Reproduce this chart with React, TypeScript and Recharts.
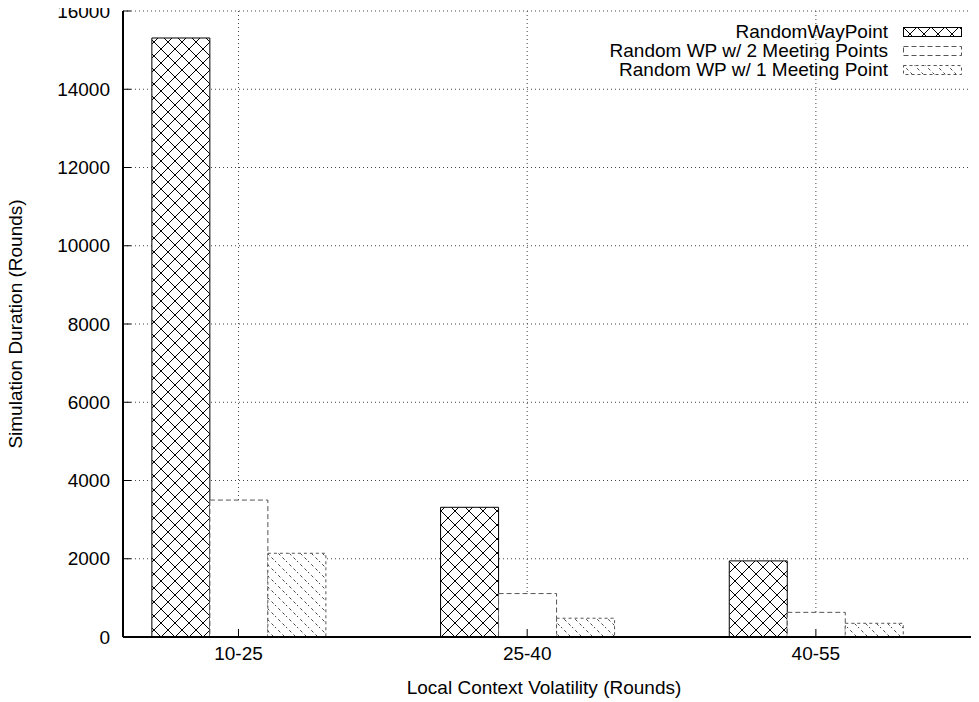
import React from "react";
import { BarChart, Bar, XAxis, YAxis, CartesianGrid, Label } from "recharts";

// categories along the x axis (bars sit at positions 0, 1, 2)
const categories = ["10-25", "25-40", "40-55"];
const seriesNames = [
  "RandomWayPoint",
  "Random WP w/ 2 Meeting Points",
  "Random WP w/ 1 Meeting Point",
];
const randomWayPoint = [15310, 3315, 1945];
const twoMeetingPoints = [3500, 1110, 630];
const oneMeetingPoint = [2140, 480, 350];
const yTicks = [0, 2000, 4000, 6000, 8000, 10000, 12000, 14000, 16000];
const xPositions = [0, 1, 2];

const data = categories.map((label, i) => ({
  pos: xPositions[i],
  label,
  rwp: randomWayPoint[i],
  mp2: twoMeetingPoints[i],
  mp1: oneMeetingPoint[i],
}));

const FONT = "'Liberation Sans', Arial, Helvetica, sans-serif";
const FS = 19;
const X_DOMAIN: [number, number] = [-0.4, 2.565];

function YTick(props: any) {
  const { x, y, payload } = props;
  return (
    <g>
      <line x1={x} x2={x + 8} y1={y} y2={y} stroke="#000" strokeWidth={1} />
      <text x={x - 13} y={y} dy="0.35em" textAnchor="end" fontSize={FS} fontFamily={FONT} fill="#000">
        {payload.value}
      </text>
    </g>
  );
}

function XTick(props: any) {
  const { x, y, payload } = props;
  return (
    <g>
      <line x1={x} x2={x} y1={y} y2={y - 8} stroke="#000" strokeWidth={1} />
      <text x={x} y={y + 23} textAnchor="middle" fontSize={FS} fontFamily={FONT} fill="#000">
        {categories[payload.value]}
      </text>
    </g>
  );
}

function TopTick(props: any) {
  const { x, y } = props;
  return <line x1={x} x2={x} y1={y} y2={y + 8} stroke="#000" strokeWidth={1} />;
}

const swatches = [
  { fill: "url(#crosshatch)", stroke: "#000", dash: undefined },
  { fill: "#fff", stroke: "#555", dash: "5 3" },
  { fill: "url(#diagdash)", stroke: "#555", dash: "3 3" },
];

export default function App() {
  return (
    <div style={{ position: "relative", width: 979, height: 702, margin: "-8px 0 0 -8px", fontFamily: FONT }}>
      <svg width={0} height={0} style={{ position: "absolute" }}>
        <defs>
          <pattern id="crosshatch" patternUnits="userSpaceOnUse" width={14} height={14}>
            <rect width={14} height={14} fill="#fff" />
            <path d="M-1,-1 L15,15 M15,-1 L-1,15" stroke="#000" strokeWidth={1} />
          </pattern>
          <pattern id="diagdash" patternUnits="userSpaceOnUse" width={11} height={11}>
            <rect width={11} height={11} fill="#fff" />
            <path d="M-1,-1 L12,12" stroke="#444" strokeWidth={1} strokeDasharray="3 3" />
          </pattern>
        </defs>
      </svg>
      <BarChart
        width={979}
        height={702}
        data={data}
        margin={{ top: 11, right: 0, left: 0, bottom: 0 }}
        barCategoryGap="20%"
        barGap={0}
      >
        <CartesianGrid stroke="#444" strokeDasharray="1 3" strokeWidth={1} />
        <XAxis
          dataKey="pos"
          type="number"
          domain={X_DOMAIN}
          ticks={xPositions}
          interval={0}
          height={65}
          tickSize={0}
          tickMargin={0}
          tickLine={false}
          axisLine={{ stroke: "#000", strokeWidth: 2 }}
          tick={XTick}
        >
          <Label
            content={(p: any) => {
              const vb = p.viewBox;
              return (
                <text x={vb.x + vb.width / 2 - 7} y={vb.y + 57} textAnchor="middle" fontSize={FS} fontFamily={FONT} fill="#000">
                  Local Context Volatility (Rounds)
                </text>
              );
            }}
          />
        </XAxis>
        <XAxis
          xAxisId="top"
          orientation="top"
          dataKey="pos"
          type="number"
          domain={X_DOMAIN}
          ticks={xPositions}
          interval={0}
          height={0}
          tickSize={0}
          tickMargin={0}
          tickLine={false}
          axisLine={{ stroke: "#000", strokeWidth: 2 }}
          tick={TopTick}
        />
        <YAxis
          domain={[0, 16000]}
          ticks={yTicks}
          interval={0}
          width={123}
          tickSize={0}
          tickMargin={0}
          tickLine={false}
          axisLine={{ stroke: "#000", strokeWidth: 2 }}
          tick={YTick}
        >
          <Label
            content={(p: any) => {
              const vb = p.viewBox;
              const cy = vb.y + vb.height / 2;
              return (
                <text x={22} y={cy} transform={`rotate(-90 22 ${cy})`} textAnchor="middle" fontSize={FS} fontFamily={FONT} fill="#000">
                  Simulation Duration (Rounds)
                </text>
              );
            }}
          />
        </YAxis>
        <Bar dataKey="rwp" name={seriesNames[0]} fill="url(#crosshatch)" stroke="#000" strokeWidth={1} isAnimationActive={false} />
        <Bar dataKey="mp2" name={seriesNames[1]} fill="#fff" stroke="#555" strokeDasharray="5 3" strokeWidth={1} isAnimationActive={false} />
        <Bar dataKey="mp1" name={seriesNames[2]} fill="url(#diagdash)" stroke="#555" strokeDasharray="3 3" strokeWidth={1} isAnimationActive={false} />
      </BarChart>
      <div style={{ position: "absolute", top: 22, right: 17, fontSize: FS, lineHeight: "19px", color: "#000" }}>
        {seriesNames.map((name, i) => (
          <div key={name} style={{ display: "flex", justifyContent: "flex-end", alignItems: "center", height: 19 }}>
            <span style={{ marginRight: 15, whiteSpace: "nowrap" }}>{name}</span>
            <svg width={59} height={10} style={{ display: "block" }}>
              <rect x={0.5} y={0.5} width={58} height={9} fill={swatches[i].fill} stroke={swatches[i].stroke} strokeDasharray={swatches[i].dash} />
            </svg>
          </div>
        ))}
      </div>
    </div>
  );
}
